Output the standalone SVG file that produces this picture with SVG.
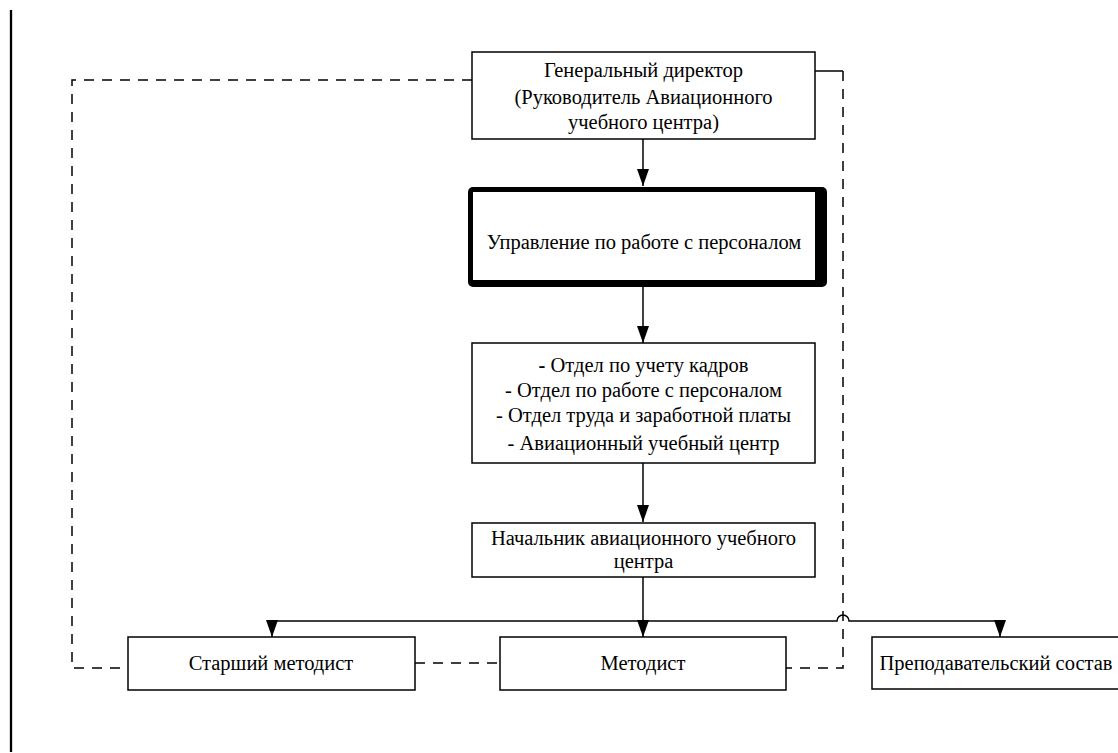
<svg xmlns="http://www.w3.org/2000/svg" width="1118" height="753" viewBox="0 0 1118 753">
<defs>
<marker id="arr" markerWidth="17" markerHeight="12" refX="17" refY="6" orient="auto" markerUnits="userSpaceOnUse" viewBox="0 0 17 12">
<path d="M0,0 L17,6 L0,12 Z" fill="#000"/>
</marker>
<style>
.box{fill:#fff;stroke:#000;stroke-width:1.5}
text{font-family:'Liberation Serif','Times New Roman',serif;font-size:20.5px;fill:#000;text-anchor:middle}
.ln{fill:none;stroke:#000;stroke-width:1.5}
.dash{fill:none;stroke:#000;stroke-width:1.5;stroke-dasharray:10,8}
</style>
</defs>
<rect width="1118" height="753" fill="#fff"/>
<line x1="11" y1="10" x2="11" y2="752" stroke="#000" stroke-width="2.3"/>
<g id="connectors">
<path class="dash" d="M472,80 H72 V668 H128"/>
<path class="ln" d="M815,71 H843"/>
<path class="dash" d="M843,71 V668 H786"/>
<path class="dash" d="M415,663 H500"/>
<line class="ln" x1="643" y1="139" x2="643" y2="186" marker-end="url(#arr)"/>
<line class="ln" x1="643" y1="287" x2="643" y2="343" marker-end="url(#arr)"/>
<line class="ln" x1="643" y1="463" x2="643" y2="522" marker-end="url(#arr)"/>
<line class="ln" x1="643" y1="577" x2="643" y2="637" marker-end="url(#arr)"/>
<path class="ln" d="M272,621 H837 A6,6 0 0 1 849,621 H1000"/>
<line class="ln" x1="272" y1="621" x2="272" y2="637" marker-end="url(#arr)"/>
<line class="ln" x1="1000" y1="621" x2="1000" y2="637" marker-end="url(#arr)"/>
</g>
<g id="n-director">
<rect class="box" x="472" y="52" width="343" height="87"/>
<text x="643.5" y="77">Генеральный директор</text>
<text x="643.5" y="104">(Руководитель Авиационного</text>
<text x="643.5" y="129">учебного центра)</text>
</g>
<g id="n-hr">
<rect x="468" y="187" width="359" height="100" rx="5" fill="#000"/>
<rect x="473" y="192" width="342" height="88" fill="#fff"/>
<text x="644" y="249">Управление по работе с персоналом</text>
</g>
<g id="n-depts">
<rect class="box" x="472" y="343" width="343" height="120"/>
<text x="643.5" y="372"><tspan font-weight="bold">-</tspan> Отдел по учету кадров</text>
<text x="643.5" y="397">- Отдел по работе с персоналом</text>
<text x="643.5" y="422">- Отдел труда и заработной платы</text>
<text x="643.5" y="450">- Авиационный учебный центр</text>
</g>
<g id="n-chief">
<rect class="box" x="472" y="523" width="343" height="54"/>
<text x="643.5" y="545">Начальник авиационного учебного</text>
<text x="643.5" y="568">центра</text>
</g>
<g id="n-senior">
<rect class="box" x="128" y="637" width="287" height="53"/>
<text x="271" y="670">Старший методист</text>
</g>
<g id="n-methodist">
<rect class="box" x="500" y="637" width="286" height="53"/>
<text x="643" y="670">Методист</text>
</g>
<g id="n-teachers">
<rect class="box" x="872" y="637" width="260" height="52"/>
<text x="996" y="670">Преподавательский состав</text>
</g>
</svg>
